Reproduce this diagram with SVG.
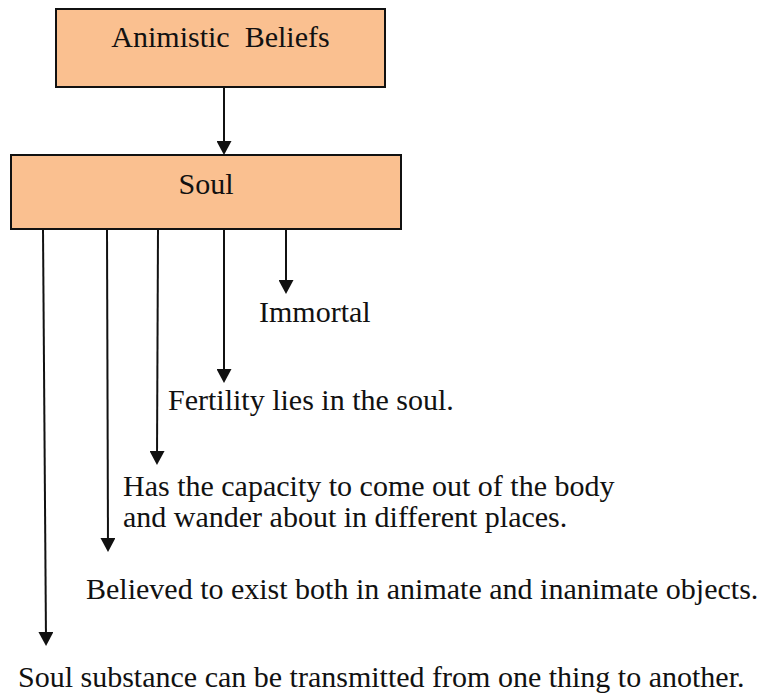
<svg xmlns="http://www.w3.org/2000/svg" width="766" height="696" viewBox="0 0 766 696">
  <style>
    .box { fill: #FAC090; stroke: #111111; stroke-width: 2; }
    .label { font-family: "Liberation Serif", "Times New Roman", serif; font-size: 30px; fill: #111111; white-space: pre; }
    .mid { text-anchor: middle; }
    .link { stroke: #111111; stroke-width: 2; fill: none; marker-end: url(#arrow); }
  </style>
  <defs>
    <marker id="arrow" viewBox="0 0 14 15" refX="8" refY="7.5" markerWidth="14" markerHeight="15" markerUnits="userSpaceOnUse" orient="auto">
      <path d="M0,0 L14,7.5 L0,15 z" fill="#111111"/>
    </marker>
  </defs>
  <rect width="766" height="696" fill="#ffffff"/>

  <g id="connectors">
    <line class="link" x1="224" y1="87" x2="224" y2="149"/>
    <line class="link" x1="286" y1="229" x2="286" y2="288"/>
    <line class="link" x1="224" y1="229" x2="224" y2="377"/>
    <line class="link" x1="158" y1="229" x2="157" y2="459"/>
    <line class="link" x1="107" y1="229" x2="108" y2="546"/>
    <line class="link" x1="43" y1="229" x2="46" y2="640"/>
  </g>

  <g id="animistic-beliefs">
    <rect class="box" x="56" y="9" width="329" height="78"/>
    <text class="label mid" x="220.5" y="47" xml:space="preserve">Animistic  Beliefs</text>
  </g>

  <g id="soul">
    <rect class="box" x="11" y="155" width="390" height="74"/>
    <text class="label mid" x="206" y="194">Soul</text>
  </g>

  <g id="immortal">
    <text class="label" x="259" y="322">Immortal</text>
  </g>

  <g id="fertility">
    <text class="label" x="168" y="410">Fertility lies in the soul.</text>
  </g>

  <g id="wander">
    <text class="label" x="123" y="496">Has the capacity to come out of the body</text>
    <text class="label" x="123" y="527">and wander about in different places.</text>
  </g>

  <g id="exist">
    <text class="label" x="86" y="599">Believed to exist both in animate and inanimate objects.</text>
  </g>

  <g id="transmitted">
    <text class="label" x="18" y="687">Soul substance can be transmitted from one thing to another.</text>
  </g>
</svg>
